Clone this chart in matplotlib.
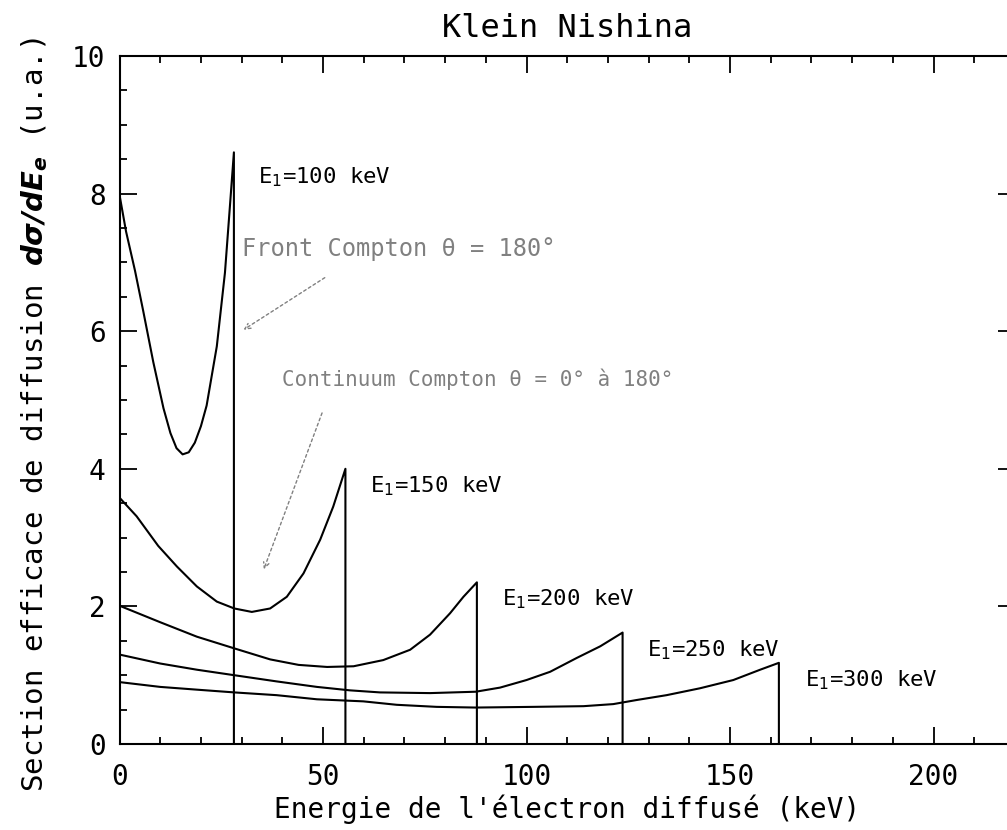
import matplotlib
matplotlib.use("Agg")
import matplotlib.pyplot as plt
from matplotlib.ticker import MultipleLocator

plt.rcParams['font.family'] = ['DejaVu Sans Mono', 'DejaVu Sans']
plt.rcParams['mathtext.fontset'] = 'dejavusans'

# Incident photon energies (keV)
energies = [100, 150, 200, 250, 300]

# Electron energy (keV) and differential cross section (a.u.) for each spectrum
e100_x = [0, 1.6, 3.8, 5.8, 8.3, 10.8, 12.5, 14.0, 15.5, 17.0, 18.5, 20.0, 21.4,
          23.9, 25.9, 27.1, 28.1]
e100_y = [7.98, 7.45, 6.88, 6.30, 5.55, 4.88, 4.52, 4.30, 4.21, 4.24, 4.38, 4.62, 4.92,
          5.78, 6.85, 7.80, 8.60]

e150_x = [0, 4.2, 9.5, 14.1, 19.0, 23.9, 28.2, 32.5, 37.0, 41.1, 45.2, 49.3, 52.5, 55.5]
e150_y = [3.58, 3.31, 2.88, 2.58, 2.29, 2.07, 1.97, 1.92, 1.97, 2.14, 2.48, 2.97, 3.45, 4.00]

e200_x = [0, 10.0, 19.0, 28.2, 37.0, 44.0, 51.0, 57.5, 64.8, 71.4, 76.3, 81.2, 84.5, 87.8]
e200_y = [2.01, 1.77, 1.56, 1.39, 1.23, 1.15, 1.12, 1.13, 1.22, 1.37, 1.59, 1.90, 2.14, 2.35]

e250_x = [0, 10, 19, 28.2, 38.6, 48.5, 56.6, 64, 76.3, 87.5, 93.5, 100, 105.8, 112.3, 118.1, 123.6]
e250_y = [1.30, 1.17, 1.08, 1.00, 0.91, 0.83, 0.78, 0.75, 0.74, 0.76, 0.82, 0.93, 1.05, 1.25, 1.42, 1.62]

e300_x = [0, 10, 19, 28.2, 38.6, 48.5, 59.9, 68.1, 77.9, 87.5, 101.7, 114, 121.3,
          127.1, 134.4, 142.6, 150.8, 157.4, 162.0]
e300_y = [0.90, 0.83, 0.79, 0.75, 0.71, 0.65, 0.62, 0.57, 0.54, 0.53, 0.54, 0.55, 0.58,
          0.64, 0.71, 0.81, 0.93, 1.08, 1.18]

spectra_x = [e100_x, e150_x, e200_x, e250_x, e300_x]
spectra_y = [e100_y, e150_y, e200_y, e250_y, e300_y]

# Curve label anchors (left edge, baseline) in data units
label_pos = [(34.0, 8.15), (61.5, 3.65), (93.9, 2.02), (129.5, 1.28), (168.4, 0.84)]

fig = plt.figure(figsize=(10.07, 8.30), dpi=100)
ax = fig.add_axes([0.1187, 0.1036, 1.0079 - 0.1187, 0.9325 - 0.1036])

for E, xs, ys, (lx, ly) in zip(energies, spectra_x, spectra_y, label_pos):
    # spectrum followed by the Compton edge drop to zero
    ax.plot(list(xs) + [xs[-1]], list(ys) + [0.0], color='black', lw=1.5,
            solid_joinstyle='round')
    ax.text(lx, ly, r"E$_1$=%d keV" % E, fontsize=16, ha='left', va='baseline')

# Annotations
grey = '0.5'
ax.text(30.2, 7.1, "Front Compton θ = 180°", fontsize=17, color=grey,
        ha='left', va='baseline')
ax.annotate("", xy=(29.9, 6.0), xytext=(51.0, 6.8),
            arrowprops=dict(arrowstyle='->', color=grey, lw=1.0, linestyle=(0, (2, 2))))
ax.text(40.0, 5.2, "Continuum Compton θ = 0° à 180°", fontsize=15, color=grey,
        ha='left', va='baseline')
ax.annotate("", xy=(35.2, 2.5), xytext=(50.0, 4.85),
            arrowprops=dict(arrowstyle='->', color=grey, lw=1.0, linestyle=(0, (2, 2))))

ax.set_xlim(0, 220)
ax.set_ylim(0, 10)
ax.xaxis.set_major_locator(MultipleLocator(50))
ax.xaxis.set_minor_locator(MultipleLocator(10))
ax.yaxis.set_major_locator(MultipleLocator(2))
ax.yaxis.set_minor_locator(MultipleLocator(0.5))
ax.tick_params(which='both', direction='in', top=True, right=True, width=1.3,
               labelsize=20)
ax.tick_params(which='major', length=12)
ax.tick_params(which='minor', length=5)
ax.tick_params(axis='x', pad=14)
ax.tick_params(axis='y', pad=10)
for s in ax.spines.values():
    s.set_linewidth(1.5)

ax.set_title("Klein Nishina", fontsize=23, pad=14)
ax.set_xlabel("Energie de l'électron diffusé (keV)", fontsize=20, labelpad=2)
ax.set_ylabel(r"Section efficace de diffusion $\mathbfit{d\sigma/dE_e}$ (u.a.)",
              fontsize=21)
ax.yaxis.set_label_coords(-0.078, 0.478)

fig.savefig("out.png", dpi=100)
